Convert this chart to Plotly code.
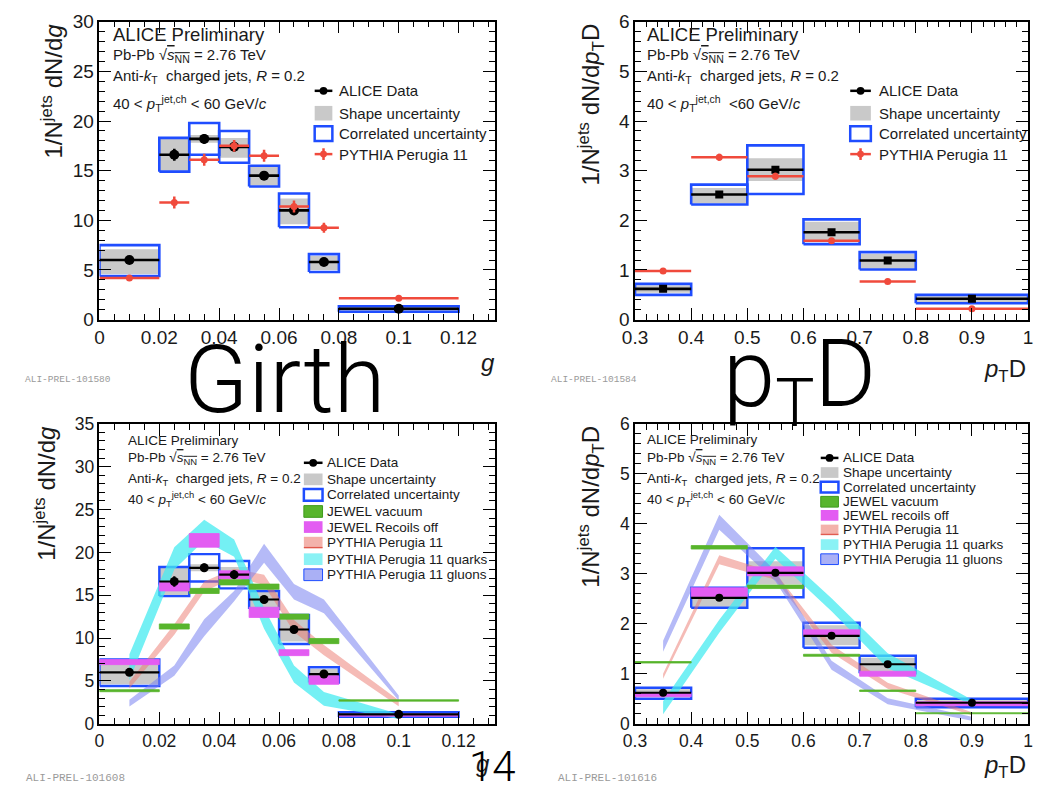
import plotly.graph_objects as go

W, H = 1038, 800
FONT = "Liberation Sans, Arial, sans-serif"

# ---------------- data: girth ----------------
girth_edges = [0.0, 0.02, 0.03, 0.04, 0.05, 0.06, 0.07, 0.08, 0.12]
girth_data = [6.0, 16.6, 18.2, 17.4, 14.5, 11.0, 5.8, 1.1]
girth_stat = [0.2, 0.6, 0.5, 0.5, 0.4, 0.4, 0.3, 0.05]
girth_shape_lo = [4.6, 15.0, 17.8, 16.3, 13.5, 9.6, 5.0, 0.85]
girth_shape_hi = [7.1, 18.2, 18.6, 18.3, 15.4, 12.2, 6.4, 1.3]
girth_corr_lo = [4.4, 14.9, 16.6, 15.8, 13.4, 9.3, 4.8, 0.8]
girth_corr_hi = [7.5, 18.3, 19.8, 19.0, 15.5, 12.7, 6.6, 1.35]
girth_pythia = [4.2, 11.8, 16.1, 17.5, 16.5, 11.4, 9.25, 2.15]
girth_pythia_err = [0.15, 0.6, 0.6, 0.6, 0.6, 0.6, 0.5, 0.1]
girth_jewel_vac = [3.86, 11.35, 15.5, 16.5, 16.0, 12.5, 9.65, 2.72]
girth_jewel_vac_hw = [0.12, 0.3, 0.3, 0.3, 0.3, 0.3, 0.3, 0.08]
girth_jewel_rec = [7.2, 16.0, 21.4, 17.4, 13.0, 8.3, 5.1, 1.0]
girth_jewel_rec_hw = [0.3, 0.5, 0.8, 0.45, 0.6, 0.35, 0.5, 0.12]
girth_band_pythia = [4.5, 11.0, 16.0, 17.6, 16.8, 11.4, 8.6, 2.4]
girth_band_pythia_hw = [0.4, 0.6, 0.6, 0.5, 0.6, 0.7, 0.6, 0.35]
girth_band_quarks = [6.6, 19.3, 22.6, 20.5, 12.3, 5.8, 2.9, 0.85]
girth_band_quarks_hw = [1.5, 1.3, 1.2, 1.0, 1.2, 1.0, 0.8, 0.3]
girth_band_gluons = [2.4, 6.2, 11.2, 14.9, 19.9, 15.4, 13.7, 3.0]
girth_band_gluons_hw = [0.4, 0.6, 1.0, 0.6, 1.1, 0.9, 0.8, 0.3]

# ---------------- data: pTD ----------------
ptd_edges = [0.3, 0.4, 0.5, 0.6, 0.7, 0.8, 1.0]
ptd_data = [0.62, 2.52, 3.02, 1.76, 1.19, 0.42]
ptd_stat = [0.03, 0.06, 0.07, 0.05, 0.04, 0.02]
ptd_shape_lo = [0.54, 2.34, 2.79, 1.57, 1.03, 0.35]
ptd_shape_hi = [0.69, 2.65, 3.25, 1.97, 1.32, 0.47]
ptd_corr_lo = [0.50, 2.32, 2.53, 1.52, 1.01, 0.33]
ptd_corr_hi = [0.72, 2.72, 3.51, 2.02, 1.36, 0.50]
ptd_pythia = [0.98, 3.27, 2.89, 1.59, 0.77, 0.22]
ptd_pythia_err = [0.02, 0.07, 0.07, 0.05, 0.03, 0.01]
ptd_jewel_vac = [1.23, 3.53, 2.74, 1.37, 0.66, 0.21]
ptd_jewel_vac_hw = [0.015, 0.035, 0.035, 0.02, 0.015, 0.01]
ptd_jewel_rec = [0.58, 2.63, 3.05, 1.82, 1.0, 0.40]
ptd_jewel_rec_hw = [0.04, 0.09, 0.09, 0.06, 0.05, 0.04]
ptd_band_pythia = [0.95, 3.28, 2.95, 1.50, 0.76, 0.20]
ptd_band_pythia_hw = [0.05, 0.09, 0.07, 0.08, 0.06, 0.03]
ptd_band_quarks = [0.32, 1.95, 3.42, 2.38, 1.26, 0.43]
ptd_band_quarks_hw = [0.13, 0.13, 0.12, 0.13, 0.15, 0.05]
ptd_band_gluons = [1.55, 4.03, 2.95, 1.17, 0.45, 0.10]
ptd_band_gluons_hw = [0.11, 0.15, 0.10, 0.09, 0.06, 0.04]

# ---------------- styles ----------------
BLUE = "#1f4dff"
GRAY = "#c9c9c9"
RED = "#f04a3c"
GREEN = "#58b52c"
GREEN_D = "#3f9a1c"
MAGENTA = "#e35cf2"
BAND_RED = "rgba(236,120,110,0.50)"
BAND_CYAN = "rgba(70,235,240,0.75)"
BAND_GLU = "rgba(120,130,240,0.55)"


def centers_of(edges):
    return [(edges[i] + edges[i + 1]) / 2 for i in range(len(edges) - 1)]


def halfw_of(edges):
    return [(edges[i + 1] - edges[i]) / 2 for i in range(len(edges) - 1)]


def boxes(edges, lo, hi):
    xs, ys = [], []
    for i in range(len(lo)):
        x0, x1 = edges[i], edges[i + 1]
        xs += [x0, x1, x1, x0, x0, None]
        ys += [lo[i], lo[i], hi[i], hi[i], lo[i], None]
    return xs, ys


def band(xc, c, hw):
    up = [a + b for a, b in zip(c, hw)]
    dn = [a - b for a, b in zip(c, hw)]
    return xc + xc[::-1], up + dn[::-1]


fig = go.Figure()


def add_boxes(xa, ya, edges, slo, shi, clo, chi, lw):
    bx, by = boxes(edges, clo, chi)
    fig.add_trace(go.Scatter(x=bx, y=by, mode="lines", fill="toself", fillcolor="white",
                             line=dict(width=0), hoverinfo="skip", showlegend=False, xaxis=xa, yaxis=ya))
    sx, sy = boxes(edges, slo, shi)
    fig.add_trace(go.Scatter(x=sx, y=sy, mode="lines", fill="toself", fillcolor=GRAY,
                             line=dict(width=0), hoverinfo="skip", showlegend=False, xaxis=xa, yaxis=ya))
    fig.add_trace(go.Scatter(x=bx, y=by, mode="lines", line=dict(color=BLUE, width=lw),
                             hoverinfo="skip", showlegend=False, xaxis=xa, yaxis=ya))


def add_data(xa, ya, edges, vals, stat, symbol, size, lw):
    fig.add_trace(go.Scatter(x=centers_of(edges), y=vals, mode="markers",
                             marker=dict(color="black", size=size, symbol=symbol),
                             error_x=dict(type="data", array=halfw_of(edges), color="black", thickness=lw, width=0),
                             error_y=dict(type="data", array=stat, color="black", thickness=lw, width=0),
                             showlegend=False, xaxis=xa, yaxis=ya))


def add_pythia_points(xa, ya, edges, vals, err):
    fig.add_trace(go.Scatter(x=centers_of(edges), y=vals, mode="markers",
                             marker=dict(color=RED, size=7, symbol="circle"),
                             error_x=dict(type="data", array=halfw_of(edges), color=RED, thickness=2.5, width=0),
                             error_y=dict(type="data", array=err, color=RED, thickness=2.5, width=0),
                             showlegend=False, xaxis=xa, yaxis=ya))


def add_bars(xa, ya, edges, c, hw, color, lcolor):
    lo = [a - b for a, b in zip(c, hw)]
    hi = [a + b for a, b in zip(c, hw)]
    bx, by = boxes(edges, lo, hi)
    fig.add_trace(go.Scatter(x=bx, y=by, mode="lines", fill="toself", fillcolor=color,
                             line=dict(width=0.8, color=lcolor), hoverinfo="skip", showlegend=False,
                             xaxis=xa, yaxis=ya))


def add_band(xa, ya, edges, c, hw, color):
    bx, by = band(centers_of(edges), c, hw)
    fig.add_trace(go.Scatter(x=bx, y=by, mode="lines", fill="toself", fillcolor=color,
                             line=dict(width=0), hoverinfo="skip", showlegend=False, xaxis=xa, yaxis=ya))


# ---- Panel 1: girth, top ----
add_boxes("x", "y", girth_edges, girth_shape_lo, girth_shape_hi, girth_corr_lo, girth_corr_hi, 2.6)
add_data("x", "y", girth_edges, girth_data, girth_stat, "circle", 10, 2.6)
add_pythia_points("x", "y", girth_edges, girth_pythia, girth_pythia_err)

# ---- Panel 2: pTD, top ----
add_boxes("x2", "y2", ptd_edges, ptd_shape_lo, ptd_shape_hi, ptd_corr_lo, ptd_corr_hi, 2.6)
add_data("x2", "y2", ptd_edges, ptd_data, ptd_stat, "square", 8, 2.6)
add_pythia_points("x2", "y2", ptd_edges, ptd_pythia, ptd_pythia_err)

# ---- Panel 3: girth, bottom ----
add_boxes("x3", "y3", girth_edges, girth_shape_lo, girth_shape_hi, girth_corr_lo, girth_corr_hi, 2.4)
add_band("x3", "y3", girth_edges, girth_band_pythia, girth_band_pythia_hw, BAND_RED)
add_band("x3", "y3", girth_edges, girth_band_quarks, girth_band_quarks_hw, BAND_CYAN)
add_band("x3", "y3", girth_edges, girth_band_gluons, girth_band_gluons_hw, BAND_GLU)
add_bars("x3", "y3", girth_edges, girth_jewel_vac, girth_jewel_vac_hw, GREEN, GREEN)
add_bars("x3", "y3", girth_edges, girth_jewel_rec, girth_jewel_rec_hw, MAGENTA, MAGENTA)
add_data("x3", "y3", girth_edges, girth_data, girth_stat, "circle", 9, 2.2)

# ---- Panel 4: pTD, bottom ----
add_boxes("x4", "y4", ptd_edges, ptd_shape_lo, ptd_shape_hi, ptd_corr_lo, ptd_corr_hi, 2.4)
add_band("x4", "y4", ptd_edges, ptd_band_pythia, ptd_band_pythia_hw, BAND_RED)
add_band("x4", "y4", ptd_edges, ptd_band_quarks, ptd_band_quarks_hw, BAND_CYAN)
add_band("x4", "y4", ptd_edges, ptd_band_gluons, ptd_band_gluons_hw, BAND_GLU)
add_bars("x4", "y4", ptd_edges, ptd_jewel_vac, ptd_jewel_vac_hw, GREEN, GREEN)
add_bars("x4", "y4", ptd_edges, ptd_jewel_rec, ptd_jewel_rec_hw, MAGENTA, MAGENTA)
add_data("x4", "y4", ptd_edges, ptd_data, ptd_stat, "circle", 8, 2.2)


# ---------------- axes ----------------
def px(x):
    return x / W


def py(y):
    return 1 - y / H


def axis(dom, rng, dtick, tick0, mdtick, size, anchor):
    return dict(domain=dom, range=rng, dtick=dtick, tick0=tick0, anchor=anchor,
                showline=True, linecolor="black", linewidth=1.5, mirror="allticks",
                ticks="inside", ticklen=12, tickwidth=1.2, tickcolor="black",
                showgrid=False, zeroline=False,
                tickfont=dict(family=FONT, size=size, color="#1a1a1a"),
                minor=dict(dtick=mdtick, ticks="inside", ticklen=6, tickwidth=1, tickcolor="black", showgrid=False))


XL = [px(88), px(490)]
XR = [px(633), px(1033)]
YT = [py(318), py(12)]
YB = [py(733), py(425)]

layout = dict(
    width=W, height=H, autosize=False,
    margin=dict(l=0, r=0, t=0, b=0, pad=0),
    paper_bgcolor="white", plot_bgcolor="white",
    showlegend=False,
    xaxis=axis(XL, [0, 0.132], 0.02, 0, 0.005, 19, "y"),
    yaxis=axis(YT, [0, 30], 5, 0, 1, 19, "x"),
    xaxis2=axis(XR, [0.3, 1.0], 0.1, 0.3, 0.02, 19, "y2"),
    yaxis2=axis(YT, [0, 6], 1, 0, 0.2, 19, "x2"),
    xaxis3=axis(XL, [0, 0.132], 0.02, 0, 0.005, 17.5, "y3"),
    yaxis3=axis(YB, [0, 35], 5, 0, 1, 17.5, "x3"),
    xaxis4=axis(XR, [0.3, 1.0], 0.1, 0.3, 0.02, 17.5, "y4"),
    yaxis4=axis(YB, [0, 6], 1, 0, 0.2, 17.5, "x4"),
)
fig.update_layout(**layout)

annotations = []
shapes = []


def text(t, x, y, size, xanchor="left", yanchor="middle", color="#1a1a1a", family=FONT, angle=0, weight=None):
    f = dict(family=family, size=size, color=color)
    if weight is not None:
        f["weight"] = weight
    annotations.append(dict(text=t, x=px(x), y=py(y), xref="paper", yref="paper", showarrow=False,
                            xanchor=xanchor, yanchor=yanchor, font=f, textangle=angle))


def rect(x0, y0, x1, y1, fill, line_color=None, lw=0):
    shapes.append(dict(type="rect", xref="paper", yref="paper", x0=px(x0), x1=px(x1), y0=py(y1), y1=py(y0),
                       fillcolor=fill, line=dict(color=line_color or fill, width=lw), layer="above"))


def hline(x0, x1, y, color, lw):
    shapes.append(dict(type="line", xref="paper", yref="paper", x0=px(x0), x1=px(x1), y0=py(y), y1=py(y),
                       line=dict(color=color, width=lw), layer="above"))


def vline(x, y0, y1, color, lw):
    shapes.append(dict(type="line", xref="paper", yref="paper", x0=px(x), x1=px(x), y0=py(y0), y1=py(y1),
                       line=dict(color=color, width=lw), layer="above"))


def dot(x, y, r, color):
    shapes.append(dict(type="circle", xref="paper", yref="paper", x0=px(x - r), x1=px(x + r),
                       y0=py(y + r), y1=py(y - r), fillcolor=color, line=dict(color=color, width=0), layer="above"))


SQ = "√<span style='text-decoration:overline'><i>s</i><sub>NN</sub></span>"

# header texts
for (x0, big, small, ys, pt) in [
    (100, 18.5, 15, [25, 47, 68, 96], "40 < <i>p</i><sub>T</sub><sup>jet,ch</sup> < 60 GeV/<i>c</i>"),
    (643, 18.5, 15, [25, 47, 68, 96], "40 < <i>p</i><sub>T</sub><sup>jet,ch</sup>  <60 GeV/<i>c</i>"),
    (115, 13.5, 13.5, [442, 461, 482, 502], "40 < <i>p</i><sub>T</sub><sup>jet,ch</sup> < 60 GeV/<i>c</i>"),
    (643, 13.5, 13.5, [441, 461, 482, 502], "40 < <i>p</i><sub>T</sub><sup>jet,ch</sup> < 60 GeV/<i>c</i>"),
]:
    text("ALICE Preliminary", x0, ys[0], big)
    text("Pb-Pb " + SQ + " = 2.76 TeV", x0, ys[1], small)
    text("Anti-<i>k</i><sub>T</sub>  charged jets, <i>R</i> = 0.2", x0, ys[2], small)
    text(pt, x0, ys[3], small)


# legends
def legend(entries, sx0, sx1, tx, rows, size, bh):
    for (kind, label), yc in zip(entries, rows):
        if kind == "data":
            hline(sx0, sx1, yc, "black", 2.5)
            dot((sx0 + sx1) / 2, yc, 4, "black")
        elif kind == "pythia":
            hline(sx0, sx1, yc, RED, 2.5)
            vline((sx0 + sx1) / 2, yc - 6, yc + 6, RED, 2.5)
            dot((sx0 + sx1) / 2, yc, 3.5, RED)
        elif kind == "shape":
            rect(sx0, yc - bh / 2, sx1, yc + bh / 2, GRAY)
        elif kind == "corr":
            rect(sx0, yc - bh / 2, sx1, yc + bh / 2, "white", BLUE, 2.5)
        elif kind == "vac":
            rect(sx0, yc - bh / 2, sx1, yc + bh / 2, GREEN, GREEN_D, 1)
        elif kind == "rec":
            rect(sx0, yc - bh / 2, sx1, yc + bh / 2, MAGENTA)
        elif kind == "bred":
            rect(sx0, yc - bh / 2, sx1, yc + bh / 2, "#f3b2ab")
            hline(sx0, sx1, yc + bh / 2 - 1, "#e0584c", 1.2)
        elif kind == "bcyan":
            rect(sx0, yc - bh / 2, sx1, yc + bh / 2, "#8af2f5")
        elif kind == "bglu":
            rect(sx0, yc - bh / 2, sx1, yc + bh / 2, "#aab0f5", BLUE, 1)
        text(label, tx, yc, size)


top_entries = [("data", "ALICE Data"), ("shape", "Shape uncertainty"),
               ("corr", "Correlated uncertainty"), ("pythia", "PYTHIA Perugia 11")]
legend(top_entries, 307, 325, 330, [83, 106, 127, 148], 15, 15)
legend(top_entries, 852, 873, 879, [83, 106, 127, 148], 15, 15)

bl_entries = [("data", "ALICE Data"), ("shape", "Shape uncertainty"), ("corr", "Correlated uncertainty"),
              ("vac", "JEWEL vacuum"), ("rec", "JEWEL Recoils off"), ("bred", "PYTHIA Perugia 11"),
              ("bcyan", "PYTHIA Perugia 11 quarks"), ("bglu", "PYTHIA Perugia 11 gluons")]
legend(bl_entries, 296, 315, 318, [465, 482, 498, 515, 531, 547, 564, 580], 13.5, 12)
br_entries = [("data", "ALICE Data"), ("shape", "Shape uncertainty"), ("corr", "Correlated uncertainty"),
              ("vac", "JEWEL vacuum"), ("rec", "JEWEL recoils off"), ("bred", "PYTHIA Perugia 11"),
              ("bcyan", "PYTHIA Perugia 11 quarks"), ("bglu", "PYTHIA Perugia 11 gluons")]
legend(br_entries, 822, 840, 843, [460, 475, 490, 505, 519, 534, 549, 564], 13.5, 11)

# axis titles
YT_G = "1/N<sup>jets</sup> dN/d<i>g</i>"
YT_P = "1/N<sup>jets</sup> dN/d<i>p</i><sub>T</sub>D"
text(YT_G, 40, 12, 24, xanchor="center", yanchor="top", angle=-90)
text(YT_P, 588, 12, 24, xanchor="center", yanchor="top", angle=-90)
text(YT_G, 33, 425, 24, xanchor="center", yanchor="top", angle=-90)
text(YT_P, 588, 425, 24, xanchor="center", yanchor="top", angle=-90)
text("<i>g</i>", 483, 362, 24, xanchor="center")
text("<i>g</i>", 478, 774, 24, xanchor="center")
text("<i>p</i><sub>T</sub>D", 1033, 370, 24, xanchor="right")
text("<i>p</i><sub>T</sub>D", 1033, 777, 24, xanchor="right")

# slide texts
text("Girth", 276, 380, 94, xanchor="center", color="black", family="Roboto, Liberation Sans", weight=300)
text("p<sub>T</sub>D", 800, 380, 94, xanchor="center", color="black", family="Roboto, Liberation Sans", weight=300)
text("14", 488, 777, 42, xanchor="center", color="black", family="Roboto, Liberation Sans", weight=300)
text("ALI-PREL-101580", 10, 379, 9.5, color="#9a9a9a", family="Liberation Mono, monospace")
text("ALI-PREL-101584", 545, 379, 9.5, color="#9a9a9a", family="Liberation Mono, monospace")
text("ALI-PREL-101608", 11, 789, 11, color="#9a9a9a", family="Liberation Mono, monospace")
text("ALI-PREL-101616", 553, 789, 11, color="#9a9a9a", family="Liberation Mono, monospace")

fig.update_layout(annotations=annotations, shapes=shapes)
fig.write_html("out.html")
